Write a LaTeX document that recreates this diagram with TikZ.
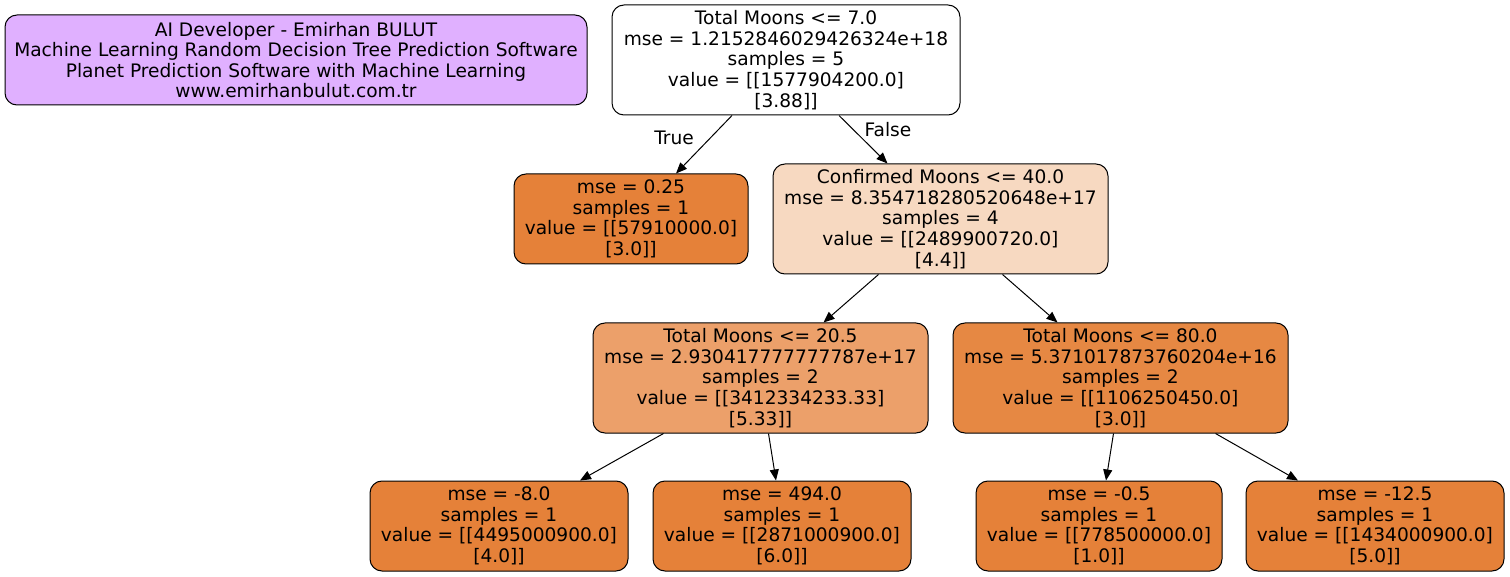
\documentclass[tikz,border=0pt]{standalone}
\usepackage{fontspec}
\setmainfont{DejaVu Sans}
\usetikzlibrary{arrows.meta}
\definecolor{leafor}{HTML}{E58139}
\definecolor{lightor}{HTML}{F7D9C1}
\definecolor{midor}{HTML}{ECA06A}
\definecolor{darkor}{HTML}{E68843}
\definecolor{infopurple}{HTML}{E0B0FF}
\tikzset{
  tbox/.style={draw=black, line width=1pt, rounded corners=12pt, align=center,
    inner sep=0pt, font=\fontsize{18.6}{20.6}\selectfont},
  box110/.style={tbox, minimum height=110pt},
  box90/.style={tbox, minimum height=90pt},
  conn/.style={draw=black, line width=1pt, -{Triangle[length=11pt,width=9pt]}},
  elab/.style={font=\fontsize{18.6}{20.6}\selectfont, inner sep=0pt}
}
\begin{document}
\begin{tikzpicture}[x=1pt,y=-1pt]
\useasboundingbox (0,0) rectangle (1510,577);
\node[box90, fill=infopurple, minimum width=582pt] (info) at (296,60)
  {AI Developer - Emirhan BULUT\\Machine Learning Random Decision Tree Prediction Software\\Planet Prediction Software with Machine Learning\\www.emirhanbulut.com.tr};
\node[box110, fill=white, minimum width=348pt] (root) at (786,60)
  {Total Moons <= 7.0\\mse = 1.2152846029426324e+18\\samples = 5\\value = [[1577904200.0]\\{}[3.88]]};
\node[box90, fill=leafor, minimum width=234pt] (l1) at (631,219)
  {mse = 0.25\\samples = 1\\value = [[57910000.0]\\{}[3.0]]};
\node[box110, fill=lightor, minimum width=335pt] (conf) at (940.5,219)
  {Confirmed Moons <= 40.0\\mse = 8.354718280520648e+17\\samples = 4\\value = [[2489900720.0]\\{}[4.4]]};
\node[box110, fill=midor, minimum width=335pt] (t20) at (760.5,378)
  {Total Moons <= 20.5\\mse = 2.930417777777787e+17\\samples = 2\\value = [[3412334233.33]\\{}[5.33]]};
\node[box110, fill=darkor, minimum width=335pt] (t80) at (1120.5,378)
  {Total Moons <= 80.0\\mse = 5.371017873760204e+16\\samples = 2\\value = [[1106250450.0]\\{}[3.0]]};
\node[box90, fill=leafor, minimum width=258pt] (b1) at (499,526)
  {mse = -8.0\\samples = 1\\value = [[4495000900.0]\\{}[4.0]]};
\node[box90, fill=leafor, minimum width=258pt] (b2) at (782,526)
  {mse = 494.0\\samples = 1\\value = [[2871000900.0]\\{}[6.0]]};
\node[box90, fill=leafor, minimum width=246pt] (b3) at (1099,526)
  {mse = -0.5\\samples = 1\\value = [[778500000.0]\\{}[1.0]]};
\node[box90, fill=leafor, minimum width=258pt] (b4) at (1375,526)
  {mse = -12.5\\samples = 1\\value = [[1434000900.0]\\{}[5.0]]};

\draw[conn] ([xshift=-54pt]root.south) -- ([xshift=45pt]l1.north);
\draw[conn] ([xshift=53pt]root.south) -- ([xshift=-53pt]conf.north);
\draw[conn] ([xshift=-62pt]conf.south) -- ([xshift=63pt]t20.north);
\draw[conn] ([xshift=62pt]conf.south) -- ([xshift=-63pt]t80.north);
\draw[conn] ([xshift=-97pt]t20.south) -- ([xshift=81pt]b1.north);
\draw[conn] ([xshift=8pt]t20.south) -- ([xshift=-6pt]b2.north);
\draw[conn] ([xshift=-7pt]t80.south) -- ([xshift=7pt]b3.north);
\draw[conn] ([xshift=95pt]t80.south) -- ([xshift=-77pt]b4.north);

\node[elab] (ltrue) at (674,138) {True};
\node[elab] (lfalse) at (888,130) {False};
\end{tikzpicture}
\end{document}
